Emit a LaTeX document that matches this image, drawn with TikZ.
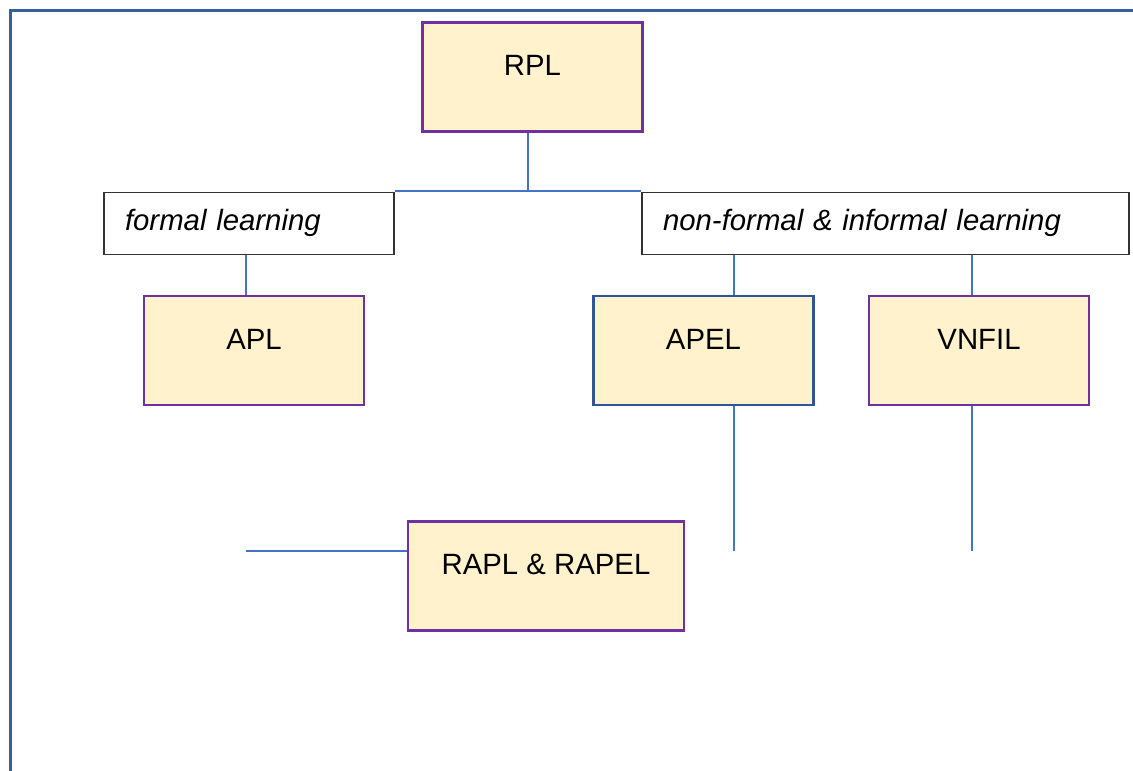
\documentclass[tikz,border=0pt]{standalone}
\usepackage{fontspec}
\setmainfont{Liberation Sans}
\usetikzlibrary{positioning}
\definecolor{boxfill}{HTML}{FFF2CC}
\definecolor{boxpurple}{HTML}{7030A0}
\definecolor{boxblue}{HTML}{2F5597}
\definecolor{linkblue}{HTML}{4472C4}
\definecolor{framecol}{HTML}{3A5D9C}
\tikzset{
  yellow box/.style={
    fill=boxfill,
    draw=#1,
    line width=1.6pt,
    minimum width=4.4cm,
    inner sep=0pt,
    text height=1.06cm,
    text depth=1.12cm,
    font=\fontsize{16.7}{20}\selectfont,
  },
  learning box/.style={
    fill=white,
    draw=black!80,
    line width=0.8pt,
    text width={#1},
    align=left,
    inner xsep=0.42cm,
    inner ysep=0pt,
    text height=0.76cm,
    text depth=0.48cm,
    font=\fontsize{16.7}{20}\selectfont\itshape,
  },
  link/.style={
    draw=linkblue,
    line width=0.6pt,
  }
}

\begin{document}
\begin{tikzpicture}[x=0.02cm, y=-0.02cm]
        \useasboundingbox (0,0) rectangle (1133,771);
        \draw [framecol, line width=1.7pt] (10.5,771) -- (10.5,10.5) -- (1133,10.5);

        \node [yellow box=boxpurple] (rpl) at (532.5,77) {RPL};
        \node [learning box=4.96cm] (formal) at (249,223.5) {formal learning};
        \node [learning box=8.9cm] (nonformal) at (885.5,223.5) {non-formal \& informal learning};
        \node [yellow box=boxpurple] (apl) at (254,350.5) {APL};
        \node [yellow box=boxblue] (apel) at (703.5,350.5) {APEL};
        \node [yellow box=boxpurple] (vnfil) at (979,350.5) {VNFIL};
        \node [yellow box=boxpurple, minimum width=5.52cm] (rapel) at (546,576) {RAPL \& RAPEL};

        \coordinate (fork) at (528,191);
        \coordinate (startR) at (246,551);
        \coordinate (endB) at (734,551);
        \coordinate (endC) at (972,551);

        \draw [link] (fork |- rpl.south) -- (fork);
        \draw [link] (formal.north east |- fork) -- (nonformal.north west |- fork);
        \draw [link] (startR |- formal.south) -- (startR |- apl.north);
        \draw [link] (endB |- nonformal.south) -- (endB |- apel.north);
        \draw [link] (endC |- nonformal.south) -- (endC |- vnfil.north);
        \draw [link] (endB |- apel.south) -- (endB);
        \draw [link] (endC |- vnfil.south) -- (endC);
        \draw [link] (startR) -- (startR -| rapel.west);
\end{tikzpicture}
\end{document}
